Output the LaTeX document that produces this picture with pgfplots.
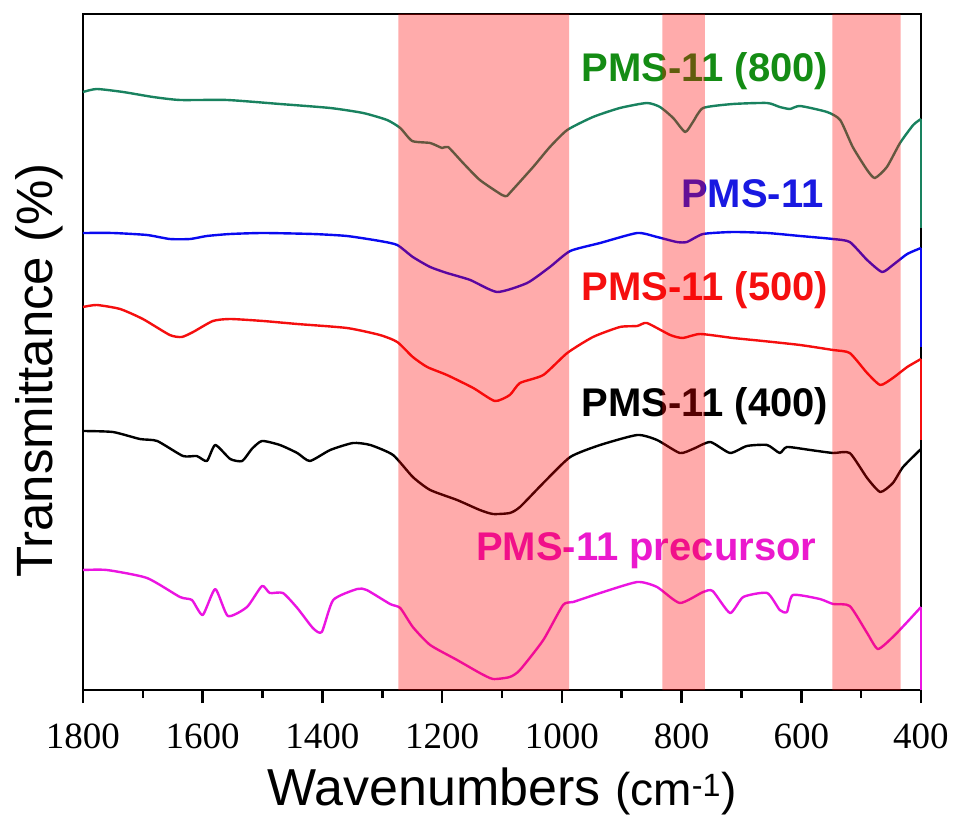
\documentclass[border=0pt]{standalone}
\usepackage{fontspec}
\setmainfont{Liberation Sans}
\newfontfamily\tickfont{Liberation Serif}
\usepackage{pgfplots}
\pgfplotsset{compat=1.18}
\definecolor{cgreen}{RGB}{25,130,95}
\definecolor{cblue}{RGB}{10,10,240}
\definecolor{cred}{RGB}{245,15,15}
\definecolor{cmag}{RGB}{235,20,225}
\definecolor{lgreen}{RGB}{20,140,20}
\definecolor{lblue}{RGB}{25,25,225}
\definecolor{lmag}{RGB}{235,25,205}
\begin{document}
\begin{tikzpicture}
\begin{axis}[
  scale only axis, width=838bp, height=676bp,
  at={(0,0)}, anchor=south west, clip=false,
  x dir=reverse, xmin=400, xmax=1800, ymin=0, ymax=676,
  xtick={400,600,800,1000,1200,1400,1600,1800},
  xticklabels={400,600,800,1000,1200,1400,1600,1800},
  minor xtick={500,700,900,1100,1300,1500,1700},
  ytick=\empty,
  xtick pos=bottom, xtick align=outside,
  major tick length=13bp, minor tick length=8bp,
  major x tick style={black, line width=2.6bp, line cap=butt},
  minor x tick style={black, line width=2.6bp, line cap=butt},
  axis line style={line width=2.4bp},
  xticklabel style={font=\tickfont\fontsize{37bp}{40bp}\selectfont, anchor=base, yshift=-45bp},
  xlabel={\fontsize{52bp}{56bp}\selectfont Wavenumbers {\fontsize{46bp}{50bp}\selectfont (cm\textsuperscript{-1})}},
  xlabel style={at={(axis description cs:0.5,0)}, anchor=base, yshift=-115bp},
  ylabel={\fontsize{51bp}{56bp}\selectfont Transmittance (\%)},
  ylabel style={at={(axis description cs:-0.0358,0.4726)}, anchor=base},
  every axis plot/.append style={line width=2.4bp, line join=round},
]
\addplot[black, line width=2.6bp, ycomb, mark=none, forget plot] coordinates {(400,-13) (600,-13) (800,-13) (1000,-13) (1200,-13) (1400,-13) (1600,-13) (1800,-13)};
\addplot[black, line width=2.6bp, ycomb, mark=none, forget plot] coordinates {(500,-8) (700,-8) (900,-8) (1100,-8) (1300,-8) (1500,-8) (1700,-8)};
\addplot[cgreen, smooth, tension=0.35] coordinates {(1800,598) (1777,601) (1733,598) (1683,593) (1638,590) (1559,590) (1471,586) (1387,582) (1332,577) (1292,570) (1270,562) (1250,549) (1220,547) (1200,542) (1190,543) (1165,527) (1137,510) (1100,495) (1092,494) (1087,497) (1048,523) (1020,543) (991,560) (948,573) (903,582) (858,587) (836,583) (814,572) (794,558) (781,568) (764,582) (714,586) (657,587) (636,583) (619,581) (602,584) (557,578) (535,570) (514,543) (490,520) (477,512) (457,523) (435,547) (413,565) (400,571)};
\addplot[cgreen] coordinates {(400,571) (400,462)};
\addplot[cblue, smooth, tension=0.35] coordinates {(1800,457) (1750,457) (1693,455) (1655,451) (1621,451) (1593,454) (1554,456) (1499,457) (1416,456) (1359,454) (1304,449) (1275,445) (1249,433) (1220,423) (1192,417) (1153,410) (1108,398) (1058,407) (1020,423) (986,439) (936,447) (874,457) (841,453) (808,448) (791,448) (764,456) (714,458) (657,457) (602,454) (547,451) (519,448) (490,430) (465,418) (447,425) (423,436) (400,442)};
\addplot[cblue] coordinates {(400,442) (400,343)};
\addplot[cred, smooth, tension=0.35] coordinates {(1800,383) (1777,385) (1738,381) (1700,371) (1655,355) (1635,353) (1616,358) (1583,369) (1554,371) (1499,369) (1442,366) (1359,362) (1304,355) (1275,348) (1249,333) (1225,323) (1192,315) (1148,302) (1112,289) (1087,295) (1070,307) (1031,315) (991,337) (948,353) (903,363) (874,364) (858,367) (819,355) (798,352) (769,356) (714,352) (664,349) (602,345) (547,340) (519,337) (490,317) (468,305) (447,312) (423,323) (400,331)};
\addplot[cred] coordinates {(400,331) (400,250)};
\addplot[black, smooth, tension=0.35] coordinates {(1800,259) (1750,258) (1705,251) (1676,249) (1633,234) (1610,234) (1593,229) (1579,245) (1554,231) (1534,229) (1518,241) (1501,249) (1471,245) (1442,237) (1421,229) (1387,240) (1349,247) (1320,245) (1282,235) (1249,213) (1220,200) (1175,190) (1137,180) (1115,176) (1087,177) (1070,183) (1031,207) (986,233) (936,245) (874,255) (841,250) (803,237) (781,241) (752,248) (719,237) (691,244) (657,245) (636,237) (624,243) (585,240) (547,237) (519,237) (490,212) (468,198) (447,207) (430,223) (400,241)};
\addplot[black] coordinates {(400,241) (400,130)};
\addplot[cmag, smooth, tension=0.35] coordinates {(1800,120) (1760,120) (1693,112) (1638,93) (1618,90) (1600,75) (1579,101) (1558,74) (1526,83) (1501,104) (1488,97) (1466,97) (1442,82) (1416,62) (1401,58) (1382,90) (1342,101) (1326,100) (1287,86) (1270,82) (1249,63) (1220,45) (1175,30) (1137,17) (1115,11) (1087,13) (1070,20) (1031,50) (998,85) (981,88) (936,97) (874,108) (841,103) (803,87) (764,98) (748,99) (719,77) (697,93) (657,97) (636,80) (624,78) (614,95) (569,91) (547,86) (519,84) (490,57) (472,41) (447,53) (423,68) (400,83)};
\addplot[cmag] coordinates {(400,83) (400,0)};
\node[anchor=base, text=lgreen, font=\bfseries\fontsize{40bp}{44bp}\selectfont] at (axis cs:761,608) {PMS-11 (800)};
\node[anchor=base, text=lblue, font=\bfseries\fontsize{40bp}{44bp}\selectfont] at (axis cs:682,482) {PMS-11};
\node[anchor=base, text=cred, font=\bfseries\fontsize{40bp}{44bp}\selectfont] at (axis cs:761,389) {PMS-11 (500)};
\node[anchor=base, text=black, font=\bfseries\fontsize{40bp}{44bp}\selectfont] at (axis cs:761,273) {PMS-11 (400)};
\node[anchor=base, text=lmag, font=\bfseries\fontsize{40bp}{44bp}\selectfont] at (axis cs:859,130) {PMS-11 precursor};
\addplot[draw=none, fill=red, fill opacity=0.33] coordinates {(1273,0) (1273,676) (988,676) (988,0)} \closedcycle;
\addplot[draw=none, fill=red, fill opacity=0.33] coordinates {(832,0) (832,676) (761,676) (761,0)} \closedcycle;
\addplot[draw=none, fill=red, fill opacity=0.33] coordinates {(548,0) (548,676) (434,676) (434,0)} \closedcycle;
\end{axis}
\pgfresetboundingbox
\path[use as bounding box] (-83bp,-126bp) rectangle (872bp,690bp);
\end{tikzpicture}
\end{document}
